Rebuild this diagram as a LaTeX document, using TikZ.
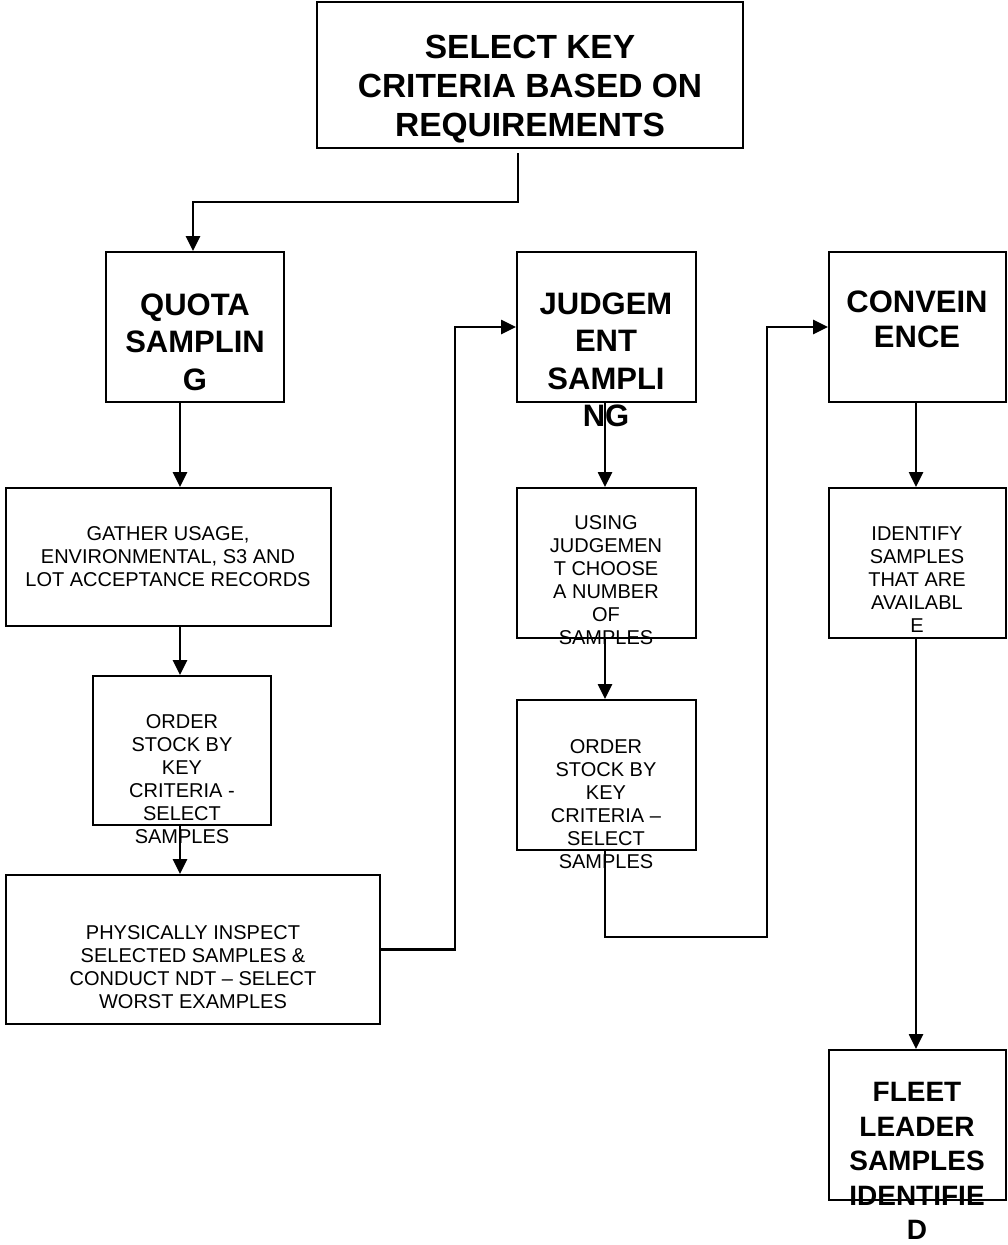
\documentclass[tikz,border=0pt]{standalone}
\usepackage{fontspec}
\setmainfont{Liberation Sans}
\usetikzlibrary{arrows.meta}
\begin{document}
\begin{tikzpicture}[x=1pt,y=-1pt,
  box/.style={draw,line width=2pt,inner sep=0pt,rectangle},
  arr/.style={line width=2.6pt,-{Triangle[length=15pt,width=14pt]}},
  big/.style={inner sep=0pt,align=center,font=\fontsize{31}{37.5}\selectfont\bfseries},
  small/.style={inner sep=0pt,align=center,font=\fontsize{20}{23}\selectfont}]
\useasboundingbox (0,0) rectangle (1007,1245);
% boxes
\node[box,minimum width=426pt,minimum height=146pt] (top) at (530,75) {};
\node[box,minimum width=178pt,minimum height=150pt] (quota) at (195,327) {};
\node[box,minimum width=179pt,minimum height=150pt] (judg) at (606.5,327) {};
\node[box,minimum width=177pt,minimum height=150pt] (conv) at (917.5,327) {};
\node[box,minimum width=325pt,minimum height=138pt] (gather) at (168.5,557) {};
\node[box,minimum width=178pt,minimum height=149pt] (order1) at (182,750.5) {};
\node[box,minimum width=374pt,minimum height=149pt] (phys) at (193,949.5) {};
\node[box,minimum width=179pt,minimum height=150pt] (using) at (606.5,563) {};
\node[box,minimum width=179pt,minimum height=150pt] (order2) at (606.5,775) {};
\node[box,minimum width=177pt,minimum height=150pt] (ident) at (917.5,563) {};
\node[box,minimum width=177pt,minimum height=150pt] (fleet) at (917.5,1125) {};
% texts
\node[big,font=\fontsize{33.5}{39}\selectfont\bfseries] (ttop) at (530,89) {SELECT KEY\\CRITERIA BASED ON\\REQUIREMENTS};
\node[big] (tquota) at (195,342) {QUOTA\\SAMPLIN\\G};
\node[big] (tjudg) at (606,360) {JUDGEM\\ENT\\SAMPLI\\NG};
\node[big,font=\fontsize{31}{35}\selectfont\bfseries] (tconv) at (917,319) {CONVEIN\\ENCE};
\node[big,font=\fontsize{28}{34.5}\selectfont\bfseries] (tfleet) at (917,1161) {FLEET\\LEADER\\SAMPLES\\IDENTIFIE\\D};
\node[small] (tgather) at (168,557) {GATHER USAGE,\\ENVIRONMENTAL, S3 AND\\LOT ACCEPTANCE RECORDS};
\node[small] (torder1) at (182,779) {ORDER\\STOCK BY\\KEY\\CRITERIA -\\SELECT\\SAMPLES};
\node[small] (tphys) at (193,967) {PHYSICALLY INSPECT\\SELECTED SAMPLES \&\\CONDUCT NDT -- SELECT\\WORST EXAMPLES};
\node[small] (tusing) at (606,580) {USING\\JUDGEMEN\\T CHOOSE\\A NUMBER\\OF\\SAMPLES};
\node[small] (torder2) at (606,804) {ORDER\\STOCK BY\\KEY\\CRITERIA --\\SELECT\\SAMPLES};
\node[small] (tident) at (917,580) {IDENTIFY\\SAMPLES\\THAT ARE\\AVAILABL\\E};
% column coordinates
\coordinate (k1) at (193,202);
\coordinate (c1) at (180,0);
\coordinate (c2) at (455,0);
\coordinate (c3) at (605,0);
\coordinate (c4) at (767,937);
\coordinate (c5) at (916,0);
% connectors
\draw[arr] ([shift={(-12,4)}]top.south) |- (k1) -- (quota.north -| k1);
\draw[arr] (quota.south -| c1) -- (gather.north -| c1);
\draw[arr] (gather.south -| c1) -- (order1.north -| c1);
\draw[arr] (order1.south -| c1) -- (phys.north -| c1);
\draw[arr] (phys.east) -- (phys.east -| c2) |- (judg.west);
\draw[arr] (judg.south -| c3) -- (using.north -| c3);
\draw[arr] (using.south -| c3) -- (order2.north -| c3);
\draw[arr] (order2.south -| c3) |- (c4) |- (conv.west);
\draw[arr] (conv.south -| c5) -- (ident.north -| c5);
\draw[arr] (ident.south -| c5) -- (fleet.north -| c5);
\end{tikzpicture}
\end{document}
